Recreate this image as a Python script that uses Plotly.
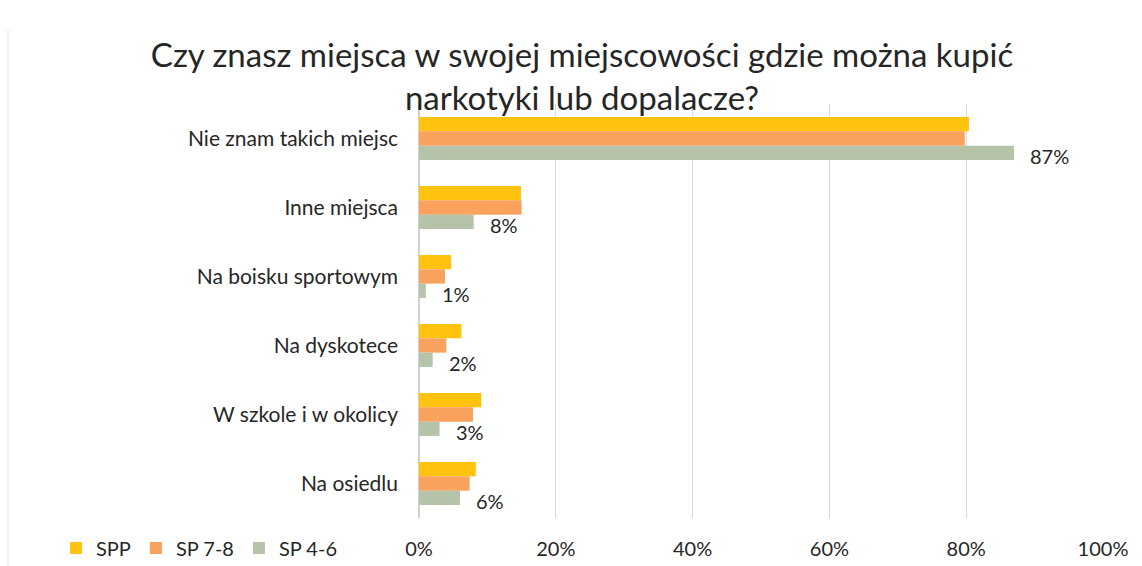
import plotly.graph_objects as go

# Survey answers, top to bottom
categories = [
    "Nie znam takich miejsc",
    "Inne miejsca",
    "Na boisku sportowym",
    "Na dyskotece",
    "W szkole i w okolicy",
    "Na osiedlu",
]

# Share of answers per school group (%)
spp = [80.4, 14.9, 4.7, 6.2, 9.1, 8.3]
sp_7_8 = [79.8, 15.0, 3.8, 4.0, 7.9, 7.4]
sp_4_6 = [87, 8, 1, 2, 3, 6]

series_names = ["SPP", "SP 7-8", "SP 4-6"]
series_colors = ["#FFC20E", "#F9A25E", "#B5C4A8"]

x_ticks = [0, 20, 40, 60, 80, 100]
x_tick_labels = ["0%", "20%", "40%", "60%", "80%", "100%"]

FONT = "Lato"
TEXT_COLOR = "#262626"

fig = go.Figure()
for name, vals, color in zip(series_names, [spp, sp_7_8, sp_4_6], series_colors):
    fig.add_trace(go.Bar(
        y=categories,
        x=vals,
        name=name,
        orientation="h",
        marker=dict(color=color, line=dict(width=0)),
    ))

# Value labels for the SP 4-6 series, placed just past each bar end
for cat, v in zip(categories, sp_4_6):
    fig.add_annotation(
        x=v, y=cat, text=f"{v}%",
        xanchor="left", yanchor="middle",
        xshift=14, yshift=-17,
        showarrow=False,
        font=dict(family=FONT, size=20, color=TEXT_COLOR),
    )

fig.update_layout(
    width=1142,
    height=566,
    margin=dict(l=419, r=39, t=104, b=48, autoexpand=False),
    paper_bgcolor="white",
    plot_bgcolor="white",
    barmode="group",
    bargap=0.38,
    bargroupgap=0,
    title=dict(
        text="Czy znasz miejsca w swojej miejscowości gdzie można kupić<br>narkotyki lub dopalacze?",
        x=582 / 1142,
        xanchor="center",
        xref="container",
        y=1 - 67 / 566,
        yref="container",
        yanchor="top",
        font=dict(family=FONT, size=33, color=TEXT_COLOR),
    ),
    xaxis=dict(
        range=[0, 100],
        tickvals=x_ticks,
        ticktext=x_tick_labels,
        showgrid=True,
        gridcolor="#D9D9D9",
        gridwidth=1,
        zeroline=True,
        zerolinecolor="#D0D0D0",
        showline=False,
        ticks="",
        ticklabelstandoff=17,
        tickfont=dict(family=FONT, size=20, color=TEXT_COLOR),
        fixedrange=True,
    ),
    yaxis=dict(
        autorange="reversed",
        showgrid=False,
        showline=False,
        ticks="",
        ticklabelstandoff=20,
        tickfont=dict(family=FONT, size=21, color=TEXT_COLOR),
        fixedrange=True,
    ),
    legend=dict(
        orientation="h",
        xref="container",
        x=56 / 1142,
        xanchor="left",
        yref="container",
        y=(566 - 548) / 566,
        yanchor="middle",
        font=dict(family=FONT, size=20, color=TEXT_COLOR),
        bgcolor="rgba(0,0,0,0)",
        itemclick=False,
        itemdoubleclick=False,
    ),
    showlegend=True,
)

# Faint frame edge along the left side
fig.add_shape(
    type="line", xref="paper", yref="paper",
    x0=(8 - 419) / 684, x1=(8 - 419) / 684,
    y0=(518 - 30) / 414, y1=(518 - 566) / 414,
    line=dict(color="#E3E3E3", width=1),
)

fig.write_html("out.html")
